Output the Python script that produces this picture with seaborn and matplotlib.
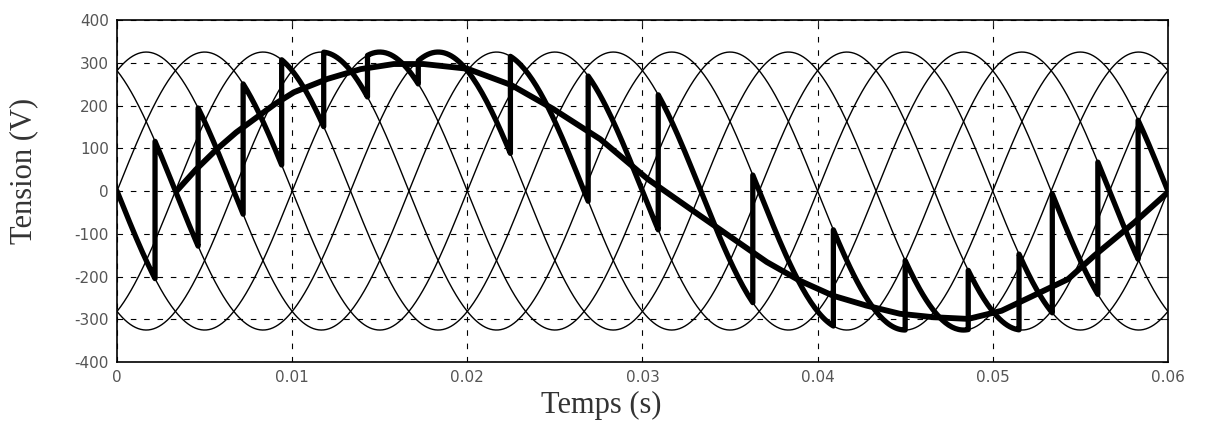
import numpy as np
import pandas as pd
import matplotlib
matplotlib.use("Agg")
import matplotlib.pyplot as plt
import seaborn as sns

# tensions du réseau (6 phases) : amplitude, fréquence et déphasages
amplitude = 325.0
freq_reseau = 50.0
dephasages_deg = [30, 90, 150, 210, 270, 330]

# instants d'amorçage et phase conduite entre deux amorçages
instants_commut = [0.00217, 0.00463, 0.0072, 0.0094, 0.0118, 0.0143, 0.0172, 0.02246,
                   0.0269, 0.0309, 0.0363, 0.0409, 0.0450, 0.0486, 0.0515, 0.0534,
                   0.0560, 0.0583]
phase_conduite = [4, 5, 0, 1, 2, 3, 4, 5, 0, 1, 2, 3, 4, 5, 0, 1, 2, 3, 4]

# tension de référence (relevée point par point)
t_ref = [0.0034, 0.0045, 0.0057, 0.0068, 0.0080, 0.0090, 0.0101, 0.0120, 0.0139,
         0.0158, 0.0175, 0.0200, 0.0225, 0.0249, 0.0276, 0.0303, 0.0333, 0.0352,
         0.0371, 0.0390, 0.0409, 0.0428, 0.0447, 0.0466, 0.0486, 0.0505, 0.0523,
         0.0543, 0.0558, 0.0581, 0.0600]
v_ref = [0, 50, 98, 137, 173, 203, 231, 262, 285, 297, 297, 286, 248, 192, 121, 28,
         -58, -112, -166, -210, -245, -268, -287, -295, -299, -280, -245, -206, -151,
         -73, -3]

x_ticks = [0, 0.01, 0.02, 0.03, 0.04, 0.05, 0.06]
x_labels = ["0", "0.01", "0.02", "0.03", "0.04", "0.05", "0.06"]
y_ticks = [-400, -300, -200, -100, 0, 100, 200, 300, 400]
y_labels = ["-400", "-300", "-200", "-100", "0", "100", "200", "300", "400"]
t_fin = 0.06


def v_phase(k, t):
    return amplitude * np.cos(2 * np.pi * freq_reseau * t - np.deg2rad(dephasages_deg[k]))


sns.set_style("white")
plt.rcParams['font.family'] = ['DejaVu Sans']

# les six tensions
t = np.linspace(0, t_fin, 1200)
df_res = pd.concat([pd.DataFrame({'t': t, 'v': v_phase(k, t), 'phase': k})
                    for k in range(len(dephasages_deg))], ignore_index=True)

# tension de sortie du cycloconvertisseur
bornes = [0.0] + instants_commut + [t_fin]
morceaux = []
for i, k in enumerate(phase_conduite):
    tt = np.linspace(bornes[i], bornes[i + 1], 40)
    morceaux.append(pd.DataFrame({'t': tt, 'v': v_phase(k, tt)}))
df_sortie = pd.concat(morceaux, ignore_index=True)

df_ref = pd.DataFrame({'t': t_ref, 'v': v_ref})

fig, ax = plt.subplots(figsize=(12.09, 4.25), dpi=100)
plt.subplots_adjust(left=0.0968, right=0.966, top=0.953, bottom=0.148)

sns.lineplot(data=df_res, x='t', y='v', units='phase', estimator=None,
             color='black', lw=1.0, ax=ax, sort=False)
sns.lineplot(data=df_sortie, x='t', y='v', estimator=None, sort=False,
             color='black', lw=3.8, ax=ax)
sns.lineplot(data=df_ref, x='t', y='v', estimator=None, sort=False,
             color='black', lw=4.2, ax=ax)

ax.set_xlim(0, t_fin)
ax.set_ylim(-400, 400)
ax.set_xticks(x_ticks)
ax.set_xticklabels(x_labels)
ax.set_yticks(y_ticks)
ax.set_yticklabels(y_labels)
ax.grid(True, color='black', linestyle=(0, (5, 7)), linewidth=0.8)
ax.tick_params(direction='in', length=4, width=0.8, top=True, right=True,
               labelsize=11, labelcolor='#555555', pad=6)
for s in ax.spines.values():
    s.set_linewidth(1.2)
    s.set_color('black')

ax.set_xlabel('Temps (s)', fontsize=22, family=['Liberation Serif', 'DejaVu Serif'],
              color='#333333')
ax.set_ylabel('Tension (V)', fontsize=22, family=['Liberation Serif', 'DejaVu Serif'],
              color='#333333')
ax.xaxis.set_label_coords(0.461, -0.085)
ax.yaxis.set_label_coords(-0.075, 0.56)

plt.savefig('out.png', dpi=100)
